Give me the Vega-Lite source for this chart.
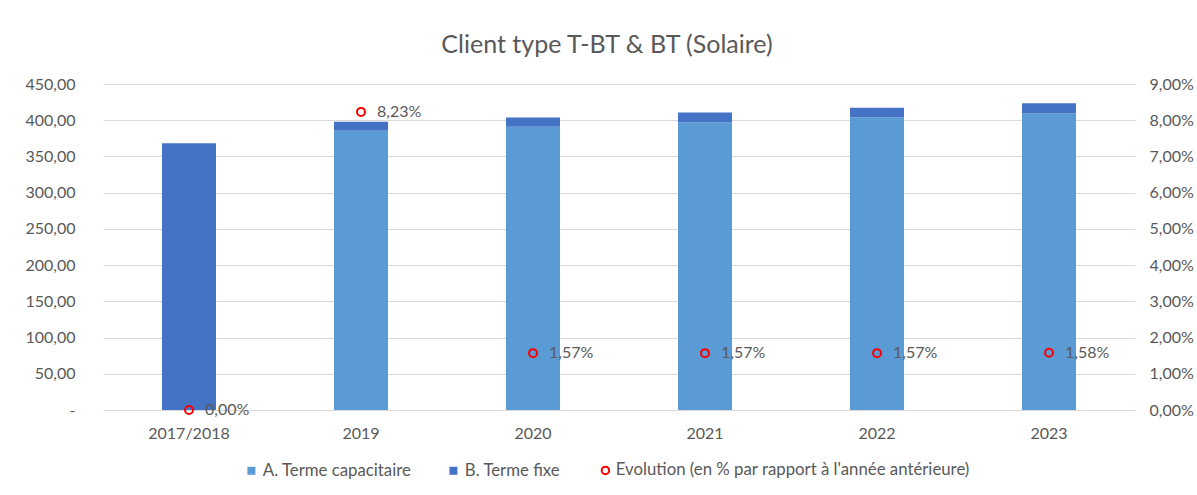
{
  "$schema": "https://vega.github.io/schema/vega-lite/v6.json",
  "width": 1032,
  "height": 326,
  "autosize": {"type": "none"},
  "padding": {"left": 103, "top": 84, "right": 62, "bottom": 85},
  "background": "white",
  "title": {
    "text": "Client type T-BT & BT (Solaire)",
    "fontSize": 25,
    "font": "Lato",
    "fontWeight": "normal",
    "color": "#595959",
    "anchor": "middle",
    "offset": 18,
    "dx": -12
  },
  "config": {
    "view": {"stroke": null},
    "font": "Lato"
  },
  "datasets": {
    "montants": [
      {"annee": "2017/2018", "serie": "B. Terme fixe", "valeur": 368.2},
      {"annee": "2019", "serie": "A. Terme capacitaire", "valeur": 385.5},
      {"annee": "2019", "serie": "B. Terme fixe", "valeur": 12.3},
      {"annee": "2020", "serie": "A. Terme capacitaire", "valeur": 390.9},
      {"annee": "2020", "serie": "B. Terme fixe", "valeur": 12.8},
      {"annee": "2021", "serie": "A. Terme capacitaire", "valeur": 397.3},
      {"annee": "2021", "serie": "B. Terme fixe", "valeur": 13.2},
      {"annee": "2022", "serie": "A. Terme capacitaire", "valeur": 403.6},
      {"annee": "2022", "serie": "B. Terme fixe", "valeur": 13.7},
      {"annee": "2023", "serie": "A. Terme capacitaire", "valeur": 409.3},
      {"annee": "2023", "serie": "B. Terme fixe", "valeur": 14.3}
    ],
    "evolution": [
      {"annee": "2017/2018", "serie": "Evolution (en % par rapport à l'année antérieure)", "evolution": 0.0},
      {"annee": "2019", "serie": "Evolution (en % par rapport à l'année antérieure)", "evolution": 0.0823},
      {"annee": "2020", "serie": "Evolution (en % par rapport à l'année antérieure)", "evolution": 0.0157},
      {"annee": "2021", "serie": "Evolution (en % par rapport à l'année antérieure)", "evolution": 0.0157},
      {"annee": "2022", "serie": "Evolution (en % par rapport à l'année antérieure)", "evolution": 0.0157},
      {"annee": "2023", "serie": "Evolution (en % par rapport à l'année antérieure)", "evolution": 0.0158}
    ]
  },
  "encoding": {
    "x": {
      "field": "annee",
      "type": "nominal",
      "sort": ["2017/2018", "2019", "2020", "2021", "2022", "2023"],
      "scale": {"paddingInner": 0.686, "paddingOuter": 0.343},
      "axis": {
        "title": null,
        "labelAngle": 0,
        "labelFontSize": 16,
        "labelColor": "#595959",
        "labelPadding": 15,
        "ticks": false,
        "domain": true,
        "domainColor": "#D9D9D9",
        "domainWidth": 1
      }
    }
  },
  "layer": [
    {
      "data": {"name": "montants"},
      "mark": {"type": "bar"},
      "encoding": {
        "y": {
          "field": "valeur",
          "type": "quantitative",
          "stack": "zero",
          "scale": {"domain": [0, 450]},
          "axis": {
            "title": null,
            "values": [0, 50, 100, 150, 200, 250, 300, 350, 400, 450],
            "labelExpr": "datum.value === 0 ? '-' : replace(format(datum.value, '.2f'), '.', ',')",
            "labelFontSize": 16,
            "labelColor": "#595959",
            "labelPadding": 28,
            "ticks": false,
            "domain": false,
            "grid": true,
            "gridColor": "#D9D9D9",
            "gridWidth": 1
          }
        },
        "color": {
          "field": "serie",
          "type": "nominal",
          "scale": {
            "domain": ["A. Terme capacitaire", "B. Terme fixe"],
            "range": ["#5B9BD5", "#4472C4"]
          },
          "legend": {
            "orient": "none",
            "legendX": 140,
            "legendY": 378,
            "direction": "horizontal",
            "title": null,
            "symbolType": "square",
            "symbolSize": 64,
            "labelFontSize": 16.8,
            "labelColor": "#595959",
            "labelLimit": 600,
            "columnPadding": 33,
            "labelOffset": 3
          }
        },
        "order": {"field": "serie", "type": "nominal", "sort": "ascending"}
      }
    },
    {
      "data": {"name": "evolution"},
      "transform": [
        {"calculate": "replace(format(datum.evolution, '.2%'), '.', ',')", "as": "etiquette"}
      ],
      "encoding": {
        "y": {
          "field": "evolution",
          "type": "quantitative",
          "scale": {"domain": [0, 0.09]},
          "axis": {
            "orient": "right",
            "title": null,
            "values": [0, 0.01, 0.02, 0.03, 0.04, 0.05, 0.06, 0.07, 0.08, 0.09],
            "labelExpr": "replace(format(datum.value, '.2%'), '.', ',')",
            "labelFontSize": 16,
            "labelColor": "#595959",
            "labelPadding": 14,
            "ticks": false,
            "domain": false,
            "grid": false
          }
        }
      },
      "layer": [
        {
          "mark": {"type": "point", "shape": "circle", "filled": false, "size": 64, "strokeWidth": 2, "opacity": 1},
          "encoding": {
            "stroke": {
              "field": "serie",
              "type": "nominal",
              "scale": {"domain": ["Evolution (en % par rapport à l'année antérieure)"], "range": ["#FF0000"]},
              "legend": {
                "orient": "none",
                "legendX": 494,
                "legendY": 378,
                "direction": "horizontal",
                "title": null,
                "symbolType": "circle",
                "symbolSize": 56,
                "symbolStrokeWidth": 2,
                "symbolFillColor": "transparent",
                "labelFontSize": 16.8,
                "labelColor": "#595959",
                "labelLimit": 600,
                "labelOffset": 2
              }
            }
          }
        },
        {
          "mark": {"type": "text", "align": "left", "baseline": "middle", "dx": 16, "fontSize": 16, "color": "#595959"},
          "encoding": {
            "text": {"field": "etiquette", "type": "nominal"}
          }
        }
      ]
    }
  ],
  "resolve": {"scale": {"y": "independent"}}
}
